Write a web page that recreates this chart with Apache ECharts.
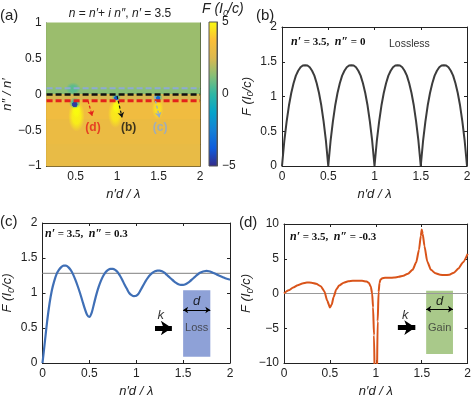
<!DOCTYPE html>
<html>
<head>
<meta charset="utf-8">
<script src="https://cdn.jsdelivr.net/npm/echarts@6/dist/echarts.min.js"></script>
<style>html,body{margin:0;padding:0;background:#fff}#main{width:474px;height:399px}</style>
</head>
<body>
<div id="main"></div>
<script type="text/javascript">
// x step of the sampled curves in (b) and (c)
var step = 0.025;

// (a) map: bands [x0, x1, y0, y1, F], spots [x, y, rx, ry, F]
var aBands = [
    [0.15, 2, 0.086, 1, 1.55],
    [0.15, 2, 0, 0.086, 1.3],
    [0.15, 2, -0.086, 0, 2.4],
    [0.15, 2, -0.35, -0.086, 3.3],
    [0.15, 2, -0.7, -0.35, 3.1],
    [0.15, 2, -1, -0.7, 2.95]
];
var aGlows = [
    [0.47, 0.08, 0.09, 0.09, 0.6],
    [0.51, -0.3, 0.1, 0.22, 4.8],
    [0.51, -0.22, 0.055, 0.11, 5],
    [0.98, -0.27, 0.09, 0.2, 4.6],
    [0.99, -0.17, 0.05, 0.1, 5],
    [1.49, -0.2, 0.07, 0.15, 4.4]
];
var aHalos = [
    [0.49, -0.12, 0.07, 0.08, 0],
    [0.99, -0.04, 0.055, 0.055, 0.2],
    [1.495, -0.04, 0.055, 0.055, 0.4]
];
var aDots = [
    [0.49, -0.14, 0.036, 0.042, -4.6],
    [0.99, -0.05, 0.028, 0.032, -4],
    [1.495, -0.05, 0.028, 0.032, -3.5]
];
var aLineY = [0.086, 0, -0.086];
var aArrows = [[0.65, -0.09, 0.7, -0.3], [1.0, -0.02, 1.06, -0.32], [1.45, -0.02, 1.51, -0.32]];
var aArrowNames = ['(d)', '(b)', '(c)'];
var aArrowLabelPos = [[0.71, -0.46], [1.14, -0.46], [1.52, -0.46]];
var cbRange = [-5, 5];

// (b) lossless
var bF = [0, 0.36, 0.64, 0.87, 1.05, 1.19, 1.30, 1.37, 1.42, 1.445, 1.45, 1.445, 1.42, 1.37, 1.30, 1.19, 1.05, 0.87, 0.64, 0.36,
          0, 0.36, 0.64, 0.87, 1.05, 1.19, 1.30, 1.37, 1.42, 1.445, 1.45, 1.445, 1.42, 1.37, 1.30, 1.19, 1.05, 0.87, 0.64, 0.36,
          0, 0.36, 0.64, 0.87, 1.05, 1.19, 1.30, 1.37, 1.42, 1.445, 1.45, 1.445, 1.42, 1.37, 1.30, 1.19, 1.05, 0.87, 0.64, 0.36,
          0, 0.36, 0.64, 0.87, 1.05, 1.19, 1.30, 1.37, 1.42, 1.445, 1.45, 1.445, 1.42, 1.37, 1.30, 1.19, 1.05, 0.87, 0.64, 0.36, 0];

// (c) loss n'' = 0.3
var cF = [0, 0.3, 0.6, 0.85, 1.04, 1.17, 1.27, 1.33, 1.37, 1.39, 1.39,
          1.37, 1.33, 1.27, 1.19, 1.10, 1.00, 0.89, 0.78, 0.69, 0.66,
          0.72, 0.85, 0.98, 1.09, 1.18, 1.25, 1.30, 1.33, 1.345, 1.345,
          1.33, 1.30, 1.25, 1.19, 1.12, 1.06, 1.00, 0.97, 0.955, 0.96,
          0.99, 1.05, 1.11, 1.17, 1.22, 1.26, 1.29, 1.31, 1.32, 1.32,
          1.31, 1.29, 1.26, 1.23, 1.20, 1.17, 1.145, 1.125, 1.115, 1.115,
          1.125, 1.145, 1.17, 1.20, 1.23, 1.26, 1.285, 1.30, 1.31, 1.315,
          1.31, 1.30, 1.285, 1.27, 1.255, 1.24, 1.225, 1.21, 1.20, 1.19];
var cRef = 1.28;
var cBox = [1.5, 0.09, 1.79, 1.04];
var cK = [1.2, 0.5, 1.38, 0.5];
var cD = [1.5, 0.757, 1.79, 0.757];
var cTexts = [['k', 1.26, 0.68], ['d', 1.645, 0.88], ['Loss', 1.645, 0.5]];

// (d) gain n'' = -0.3
var dX = [0, 0.05, 0.1, 0.15, 0.2, 0.25, 0.3, 0.35, 0.4, 0.44, 0.47, 0.5, 0.52, 0.54, 0.57,
          0.6, 0.65, 0.7, 0.75, 0.8, 0.85, 0.9, 0.925, 0.945, 0.96, 0.97, 0.98, 0.99, 1.0,
          1.01, 1.02, 1.03, 1.04, 1.05, 1.07, 1.1, 1.15, 1.2, 1.25, 1.3, 1.35, 1.4,
          1.44, 1.47, 1.49, 1.5, 1.51, 1.53, 1.56, 1.6, 1.65, 1.7, 1.75, 1.8, 1.85, 1.9, 1.95, 2.0];
var dF = [0, 0.45, 0.85, 1.2, 1.45, 1.58, 1.55, 1.4, 1.05, 0.3, -1.0, -2.0, -1.6, -0.5, 0.6,
          1.15, 1.55, 1.75, 1.82, 1.85, 1.82, 1.72, 1.5, 1.0, 0.0, -2.0, -6, -14, -30,
          -14, -4, 0.2, 1.5, 2.0, 2.2, 2.25, 2.25, 2.3, 2.4, 2.55, 2.85, 3.4,
          4.5, 6.3, 8.3, 9.2, 8.6, 6.8, 4.6, 3.4, 2.9, 2.7, 2.65, 2.7, 3.0, 3.6, 4.5, 5.7];
var dRef = 0;
var dBox = [1.548, -8.7, 1.84, 0.4];
var dK = [1.24, -4.9, 1.43, -4.9];
var dD = [1.548, -2.25, 1.84, -2.25];
var dTexts = [['k', 1.32, -3.2], ['d', 1.695, -1.1], ['Gain', 1.695, -4.9]];

var PARULA = ['#352a87', '#0f5cdd', '#1481d6', '#06a4ca', '#2eb7a4', '#87bf77', '#dcb84f', '#fcbf37', '#f9fb0e'];
var FONT = 'Liberation Sans';
var INK = '#222';
var CLEAR = 'rgba(0,0,0,0)';

function minus(v) { return String(v).replace('-', '\u2212'); }
function pairs(xs, ys) { return ys.map(function (y, i) { return [xs ? xs[i] : +(i * step).toFixed(3), y]; }); }

function baseAxis(grid, pos, min, max, interval, showLabel) {
    return {
        type: 'value', gridIndex: grid, position: pos, min: min, max: max, interval: interval,
        axisLine: { show: true, onZero: false, lineStyle: { color: INK, width: 1 } },
        axisTick: { show: true, inside: true, length: 3, lineStyle: { color: INK } },
        splitLine: { show: false },
        axisLabel: { show: showLabel, color: INK, fontSize: 12, fontFamily: FONT, margin: 5, formatter: minus }
    };
}
var xName = { name: 'n\u2032d / \u03bb', nameLocation: 'middle', nameGap: 22,
    nameTextStyle: { fontStyle: 'italic', fontSize: 13, color: INK, fontFamily: FONT } };
var fName = { name: 'F (I{s|0}/c)', nameLocation: 'middle', nameRotate: 90,
    nameTextStyle: { fontStyle: 'italic', fontSize: 13, color: INK, fontFamily: FONT,
        rich: { s: { fontSize: 9, fontStyle: 'italic', fontFamily: FONT, color: INK, padding: [7, 0, 0, 0] } } } };

var ax0 = baseAxis(0, 'bottom', 0.15, 2, null, true);
ax0.axisLabel.customValues = [0.5, 1, 1.5, 2];
ax0.axisTick.customValues = [0.5, 1, 1.5, 2];
var ax5 = baseAxis(0, 'top', 0.15, 2, null, false);
ax5.axisTick.customValues = [0.5, 1, 1.5, 2];

var xAxes = [
    Object.assign(ax0, xName),
    { type: 'value', gridIndex: 1, min: 0, max: 1, show: false },
    Object.assign(baseAxis(2, 'bottom', 0, 2, 0.5, true), xName),
    Object.assign(baseAxis(3, 'bottom', 0, 2, 0.5, true), xName),
    Object.assign(baseAxis(4, 'bottom', 0, 2, 0.5, true), xName),
    ax5,
    baseAxis(2, 'top', 0, 2, 0.5, false),
    baseAxis(3, 'top', 0, 2, 0.5, false),
    baseAxis(4, 'top', 0, 2, 0.5, false)
];
var cbAxis = baseAxis(1, 'right', cbRange[0], cbRange[1], 5, true);
cbAxis.axisTick.show = false;
cbAxis.axisLine.lineStyle.color = '#555';
var yAxes = [
    Object.assign(baseAxis(0, 'left', -1, 1, 0.5, true), { name: 'n\u2033 / n\u2032', nameLocation: 'middle', nameRotate: 90, nameGap: 26,
        nameTextStyle: { fontStyle: 'italic', fontSize: 13, color: INK, fontFamily: FONT } }),
    cbAxis,
    Object.assign(baseAxis(2, 'left', 0, 2, 0.5, true), fName, { nameGap: 27 }),
    Object.assign(baseAxis(3, 'left', 0, 2, 0.5, true), fName, { nameGap: 27 }),
    Object.assign(baseAxis(4, 'left', -10, 10, 5, true), fName, { nameGap: 27 }),
    baseAxis(0, 'right', -1, 1, 0.5, false),
    baseAxis(2, 'right', 0, 2, 0.5, false),
    baseAxis(3, 'right', 0, 2, 0.5, false),
    baseAxis(4, 'right', -10, 10, 5, false)
];

function renderBand(params, api) {
    var p0 = api.coord([api.value(0), api.value(3)]);
    var p1 = api.coord([api.value(1), api.value(2)]);
    var col = api.visual('color');
    return { type: 'rect', shape: { x: p0[0], y: p0[1], width: p1[0] - p0[0], height: p1[1] - p0[1] },
        style: { fill: col, stroke: col, lineWidth: 1 } };
}
function spotRenderer(solidTo) {
    return function (params, api) {
        var c = api.coord([api.value(0), api.value(1)]);
        var s = api.size([api.value(2), api.value(3)]);
        var col = api.visual('color');
        return { type: 'circle', x: c[0], y: c[1], scaleY: s[1] / s[0], shape: { cx: 0, cy: 0, r: s[0] },
            style: { fill: { type: 'radial', x: 0.5, y: 0.5, r: 0.5, colorStops: [
                { offset: 0, color: col }, { offset: solidTo, color: echarts.color.modifyAlpha(col, 0.9) },
                { offset: 1, color: echarts.color.modifyAlpha(col, 0) }] } } };
    };
}
function renderBox(color) {
    return function (params, api) {
        var p0 = api.coord([api.value(0), api.value(3)]);
        var p1 = api.coord([api.value(2), api.value(1)]);
        return { type: 'rect', shape: { x: p0[0], y: p0[1], width: p1[0] - p0[0], height: p1[1] - p0[1] },
            style: { fill: color } };
    };
}
function renderColorbar(params, api) {
    var p0 = api.coord([0, cbRange[1]]);
    var p1 = api.coord([1, cbRange[0]]);
    return { type: 'rect', shape: { x: p0[0], y: p0[1], width: p1[0] - p0[0], height: p1[1] - p0[1] },
        style: { stroke: '#555', lineWidth: 1, fill: { type: 'linear', x: 0, y: 1, x2: 0, y2: 0,
            colorStops: PARULA.map(function (c, i) { return { offset: i / (PARULA.length - 1), color: c }; }) } } };
}
function hline(grid, yv, color, width, dash) {
    return { type: 'line', xAxisIndex: grid, yAxisIndex: grid, data: [[grid === 0 ? 0.15 : 0, yv], [2, yv]],
        symbol: 'none', silent: true, lineStyle: { color: color, width: width, type: dash || 'solid' } };
}
function arrowSeries(grid, seg, symbol, size, width) {
    return { type: 'lines', coordinateSystem: 'cartesian2d', xAxisIndex: grid, yAxisIndex: grid,
        symbol: symbol, symbolSize: size, silent: true, z: 5,
        lineStyle: { color: '#000', width: width, opacity: 1 },
        data: [{ coords: [[seg[0], seg[1]], [seg[2], seg[3]]] }] };
}
function textSeries(grid, texts) {
    return { type: 'scatter', xAxisIndex: grid, yAxisIndex: grid, symbolSize: 1, silent: true, z: 6,
        itemStyle: { color: CLEAR },
        data: texts.map(function (t) {
            var it = t[0] === 'k' || t[0] === 'd';
            return { name: t[0], value: [t[1], t[2]], label: { fontStyle: it ? 'italic' : 'normal',
                fontSize: it ? 13 : 11, fontFamily: FONT, color: it ? '#000' : '#333' } };
        }),
        label: { show: true, position: 'inside', formatter: '{b}' } };
}

var aLineColors = ['#8eaad3', '#111111', '#e3231b'];
var aLineWidths = [2, 2.5, 3];
var aArrowColors = ['#e3231b', '#111111', '#8eaad3'];

var series = [
    { type: 'custom', xAxisIndex: 0, yAxisIndex: 0, renderItem: renderBand, data: aBands, encode: { x: [0, 1], y: [2, 3] }, silent: true },
    { type: 'custom', xAxisIndex: 0, yAxisIndex: 0, renderItem: spotRenderer(0.5), data: aGlows, encode: { x: 0, y: 1 }, silent: true, clip: true },
    { type: 'custom', xAxisIndex: 0, yAxisIndex: 0, renderItem: spotRenderer(0.4), data: aHalos, encode: { x: 0, y: 1 }, silent: true, clip: true },
    { type: 'custom', xAxisIndex: 0, yAxisIndex: 0, renderItem: spotRenderer(0.85), data: aDots, encode: { x: 0, y: 1 }, silent: true, clip: true }
];
aLineY.forEach(function (yv, i) { series.push(hline(0, yv, aLineColors[i], aLineWidths[i], [6, 3])); });
series.push({ type: 'lines', coordinateSystem: 'cartesian2d', xAxisIndex: 0, yAxisIndex: 0, symbol: ['none', 'arrow'], symbolSize: 5, silent: true, z: 5,
    data: aArrows.map(function (s, i) {
        return { coords: [[s[0], s[1]], [s[2], s[3]]], lineStyle: { color: aArrowColors[i], width: 1.2, type: [3, 2], opacity: 1 } };
    }) });
series.push({ type: 'scatter', xAxisIndex: 0, yAxisIndex: 0, symbolSize: 1, itemStyle: { color: CLEAR }, silent: true, z: 6,
    data: aArrowLabelPos.map(function (p, i) {
        return { name: aArrowNames[i], value: p, label: { color: aArrowColors[i] } };
    }),
    label: { show: true, position: 'inside', formatter: '{b}', fontWeight: 'bold', fontSize: 12, fontFamily: FONT } });
series.push({ type: 'custom', xAxisIndex: 1, yAxisIndex: 1, renderItem: renderColorbar, data: [[0.5, 0]], silent: true });
// (b)
series.push({ type: 'line', xAxisIndex: 2, yAxisIndex: 2, data: pairs(null, bF), symbol: 'none', silent: true,
    lineStyle: { color: '#3c3c3c', width: 2 } });
// (c)
series.push(hline(3, cRef, '#999', 1.2));
series.push({ type: 'line', xAxisIndex: 3, yAxisIndex: 3, data: pairs(null, cF), symbol: 'none', smooth: 0.3, silent: true,
    lineStyle: { color: '#3f6fb6', width: 2.2 } });
series.push({ type: 'custom', xAxisIndex: 3, yAxisIndex: 3, renderItem: renderBox('#8ea1d7'), data: [cBox], silent: true });
series.push(arrowSeries(3, cK, ['none', 'arrow'], 11, 5));
series.push(arrowSeries(3, cD, ['arrow', 'arrow'], 5, 1.2));
series.push(textSeries(3, cTexts));
// (d)
series.push(hline(4, dRef, '#999', 1.2));
series.push({ type: 'line', xAxisIndex: 4, yAxisIndex: 4, data: pairs(dX, dF), symbol: 'none', smooth: 0.2, smoothMonotone: 'x', silent: true,
    lineStyle: { color: '#d9541a', width: 2 } });
series.push({ type: 'custom', xAxisIndex: 4, yAxisIndex: 4, renderItem: renderBox('#a9c98a'), data: [dBox], silent: true });
series.push(arrowSeries(4, dK, ['none', 'arrow'], 11, 5));
series.push(arrowSeries(4, dD, ['arrow', 'arrow'], 5, 1.2));
series.push(textSeries(4, dTexts));

function txt(x, y, text, size, extra) {
    return { type: 'text', x: x, y: y, silent: true,
        style: Object.assign({ text: text, fill: INK, fontSize: size, fontFamily: FONT }, extra || {}) };
}
var paramRich = {
    i: { fontStyle: 'italic', fontWeight: 'bold', fontFamily: 'Liberation Serif', fontSize: 12, fill: '#111' }
};
var paramStyle = { fontWeight: 'bold', fontFamily: 'Liberation Serif', fill: '#111', textVerticalAlign: 'middle', rich: paramRich };

var option = {
    animation: false,
    backgroundColor: '#fff',
    grid: [
        { left: 40, top: 23, width: 160, height: 143 },
        { left: 209, top: 22, width: 8, height: 144 },
        { left: 282, top: 27, width: 185, height: 139 },
        { left: 42, top: 223, width: 188, height: 140 },
        { left: 284, top: 224, width: 186, height: 142 }
    ],
    xAxis: xAxes,
    yAxis: yAxes,
    visualMap: {
        type: 'continuous', show: false, min: cbRange[0], max: cbRange[1], dimension: 4,
        seriesIndex: [0, 1, 2, 3], inRange: { color: PARULA }
    },
    graphic: [
        txt(0, 8, '(a)', 15),
        txt(120, 14, '{i|n} = {i|n\u2032}+ {i|i n\u2033}, {i|n\u2032} = 3.5', 12,
            { textAlign: 'center', textVerticalAlign: 'middle', rich: { i: { fontStyle: 'italic', fontSize: 12, fontFamily: FONT, fill: INK } } }),
        txt(202, 1, 'F (I{s|0}/c)', 14, { fontStyle: 'italic',
            rich: { s: { fontSize: 9, fontStyle: 'italic', fontFamily: FONT, fill: INK, padding: [8, 0, 0, 0] } } }),
        txt(256, 8, '(b)', 15),
        txt(0, 214, '(c)', 15),
        txt(239, 215, '(d)', 15),
        txt(291, 42, '{i|n\u2032} = 3.5,  {i|n\u2033} = 0', 11, paramStyle),
        txt(389, 44, 'Lossless', 10.5, { textVerticalAlign: 'middle', fill: '#333' }),
        txt(45, 234, '{i|n\u2032} = 3.5,  {i|n\u2033} = 0.3', 11, paramStyle),
        txt(290, 237, '{i|n\u2032} = 3.5,  {i|n\u2033} = -0.3', 11, paramStyle)
    ],
    series: series
};

var myChart = echarts.init(document.getElementById('main'));
myChart.setOption(option);
</script>
</body>
</html>
